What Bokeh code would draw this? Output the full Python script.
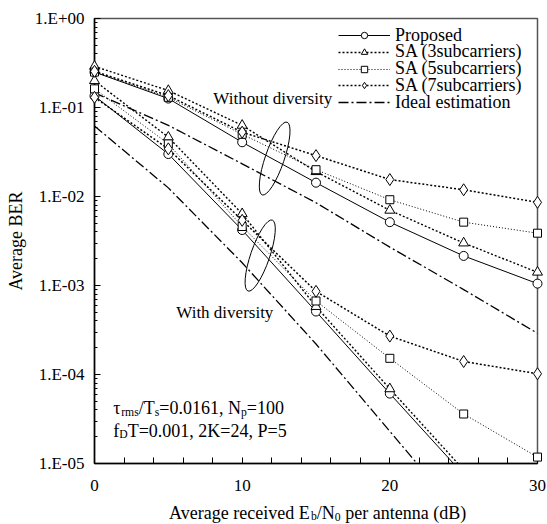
from bokeh.plotting import figure
from bokeh.layouts import column
from bokeh.models import Range1d, FixedTicker, CustomJSTickFormatter, Label, Legend, LegendItem
from bokeh.embed import file_html
from bokeh.resources import INLINE

# ---------------- data ----------------
snr_db = [0, 5, 10, 15, 20, 25, 30]          # Eb/N0 (dB)
snr_div = [0, 5, 10, 15, 20, 25]              # with-diversity curves that leave the frame

series_names = ["Proposed", "SA (3subcarriers)", "SA (5subcarriers)",
                "SA (7subcarriers)", "Ideal estimation"]

# without diversity
prop_nodiv = [0.25, 0.126, 0.0407, 0.0143, 0.00515, 0.00215, 0.00105]
sa3_nodiv = [0.29, 0.155, 0.063, 0.019, 0.0070, 0.0030, 0.00141]
sa5_nodiv = [0.25, 0.13, 0.050, 0.020, 0.0092, 0.00515, 0.00387]
sa7_nodiv = [0.255, 0.136, 0.0528, 0.0288, 0.0155, 0.0119, 0.0086]
ideal_nodiv = [0.146, 0.063, 0.0233, 0.0085, 0.0027, 0.0009, 0.00029]

# with diversity
prop_div = [0.135, 0.030, 0.0042, 0.00051, 6.1e-5, 7.5e-6]
sa3_div = [0.20, 0.0464, 0.0064, 5.8e-4, 6.9e-5, 8.5e-6]
sa5_div = [0.162, 0.039, 0.0046, 6.7e-4, 1.52e-4, 3.6e-5, 1.18e-5]
sa7_div = [0.13, 0.0343, 0.0054, 8.6e-4, 2.7e-4, 1.4e-4, 1.02e-4]
ideal_div = [0.062, 0.0125, 0.0018, 2.2e-4, 2.3e-5, 2.4e-6]

x_major_ticks = [0, 10, 20, 30]
x_minor_ticks = [2, 4, 6, 8, 12, 14, 16, 18, 22, 24, 26, 28]
y_major_ticks = [1e-5, 1e-4, 1e-3, 1e-2, 1e-1, 1.0]

FONT = "Liberation Serif"
Y_MIN, Y_MAX = 1e-5, 1.0
FRAME_H = 445

p = figure(width=547, height=500, x_range=Range1d(0, 30), y_range=Range1d(Y_MIN, Y_MAX),
           y_axis_type="log", output_backend="svg", toolbar_location=None,
           min_border_left=94, min_border_right=10, min_border_top=18, min_border_bottom=37,
           background_fill_color="white", border_fill_color="white")
p.grid.visible = False
p.outline_line_color = "#555555"
p.outline_line_width = 1.5

for ax in (p.xaxis[0], p.yaxis[0]):
    ax.axis_line_color = "black"
    ax.axis_line_width = 1.5
    ax.major_tick_in = 6
    ax.major_tick_out = 0
    ax.minor_tick_in = 6
    ax.minor_tick_out = 0
    ax.major_tick_line_color = "black"
    ax.minor_tick_line_color = "black"
    ax.major_label_text_font = FONT
    ax.major_label_text_font_size = "17px"
    ax.major_label_text_color = "black"

y_minor = [m * 10.0 ** e for e in range(-5, 0) for m in range(2, 10)]
p.xaxis.ticker = FixedTicker(ticks=x_major_ticks, minor_ticks=x_minor_ticks)
p.yaxis.ticker = FixedTicker(ticks=y_major_ticks, minor_ticks=y_minor)
p.yaxis.minor_tick_in = 3
p.yaxis.formatter = CustomJSTickFormatter(code="""
const e = Math.round(Math.log10(tick));
if (e >= 0) { return "1.E+" + String(e).padStart(2, "0"); }
return "1.E-" + String(-e).padStart(2, "0");
""")
p.xaxis.major_label_standoff = 16
p.yaxis.major_label_standoff = 10
p.yaxis.axis_label = "Average BER"
p.yaxis.axis_label_text_font = FONT
p.yaxis.axis_label_text_font_size = "18px"
p.yaxis.axis_label_text_font_style = "normal"
p.yaxis.axis_label_text_color = "black"
p.yaxis.axis_label_standoff = 6

styles = {
    "Proposed": dict(dash="solid", lw=1.0, marker="circle", size=9),
    "SA (3subcarriers)": dict(dash="2 2", lw=1.4, marker="triangle", size=10),
    "SA (5subcarriers)": dict(dash="1 2", lw=1.0, marker="square", size=8),
    "SA (7subcarriers)": dict(dash="2 2", lw=1.5, marker="diamond", size=12),
    "Ideal estimation": dict(dash="10 3 2 3", lw=1.3, marker=None, size=0),
}

curves = {
    "Proposed": [(snr_db, prop_nodiv), (snr_div, prop_div)],
    "SA (3subcarriers)": [(snr_db, sa3_nodiv), (snr_div, sa3_div)],
    "SA (5subcarriers)": [(snr_db, sa5_nodiv), (snr_db, sa5_div)],
    "SA (7subcarriers)": [(snr_db, sa7_nodiv), (snr_db, sa7_div)],
    "Ideal estimation": [(snr_db, ideal_nodiv), (snr_div, ideal_div)],
}

# legend rows: one single-item legend per row so the row pitch can match the reference
LEG_LEFT = 244        # px from frame left to legend glyph start
LEG_FIRST = 17        # px from frame top to first row centre
LEG_PITCH = 16.8      # px between rows
ROW_H = 21

for i, name in enumerate(series_names):
    st = styles[name]
    legend_rs = None
    for k, (xs, ys) in enumerate(curves[name]):
        lr = p.line(xs, ys, line_color="black", line_width=st["lw"], line_dash=st["dash"])
        rs = [lr]
        if st["marker"]:
            mx = [a for a, b in zip(xs, ys) if b >= Y_MIN]
            my = [b for b in ys if b >= Y_MIN]
            mr = p.scatter(mx, my, marker=st["marker"], size=st["size"],
                           fill_color="white", line_color="black", line_width=1.0,
                           level="overlay")
            rs.append(mr)
        if k == 0:
            legend_rs = rs
    # location = bottom-left corner of the legend box, measured from the frame's bottom-left
    bottom_from_frame_top = LEG_FIRST + i * LEG_PITCH + ROW_H / 2.0
    leg = Legend(items=[LegendItem(label=name, renderers=legend_rs)],
                 location=(LEG_LEFT, FRAME_H - bottom_from_frame_top), margin=0, padding=0,
                 label_standoff=5, glyph_width=52, glyph_height=16, label_height=ROW_H,
                 background_fill_alpha=0, border_line_alpha=0,
                 label_text_font=FONT, label_text_font_size="18px", label_text_color="black")
    p.add_layout(leg)

# ellipses marking the two groups of curves
p.ellipse(x=[12.2], y=[0.0267], width=19, height=77, width_units="screen", height_units="screen",
          angle=-0.33, fill_alpha=0, line_color="black", line_width=1)
p.ellipse(x=[11.22], y=[0.00217], width=19, height=75, width_units="screen", height_units="screen",
          angle=-0.33, fill_alpha=0, line_color="black", line_width=1)

p.add_layout(Label(x=8.05, y=0.126, text="Without diversity", text_font=FONT,
                   text_font_size="17px", text_baseline="middle", text_align="left", text_color="black"))
p.add_layout(Label(x=5.54, y=5.0e-4, text="With diversity", text_font=FONT,
                   text_font_size="17px", text_baseline="middle", text_align="left", text_color="black"))

# rich text with subscripts
W = {'τ': 0.44, 'r': 0.333, 'm': 0.778, 's': 0.389, '/': 0.278, 'T': 0.611, '=': 0.564,
     '.': 0.25, ',': 0.25, ' ': 0.25, 'N': 0.722, 'p': 0.5, 'f': 0.333, 'D': 0.722,
     'K': 0.722, 'P': 0.556, 'A': 0.722, 'v': 0.5, 'e': 0.444, 'a': 0.444, 'g': 0.5,
     'c': 0.444, 'i': 0.278, 'd': 0.5, 'E': 0.611, 'b': 0.5, 'n': 0.5, 't': 0.278,
     '(': 0.333, ')': 0.333, 'B': 0.667, 'o': 0.5, 'u': 0.5, 'l': 0.278}


def tw(s, size):
    return sum(W.get(c, 0.5) for c in s) * size


def rich(fig, x, y, pieces, size, align="left", baseline="alphabetic", sub_drop=4):
    sub = size * 0.65
    widths = [tw(t, sub if s else size) for t, s in pieces]
    off = 0.0 if align == "left" else -sum(widths) / 2.0
    for (t, s), w in zip(pieces, widths):
        fs = sub if s else size
        lead = len(t) - len(t.lstrip(" "))
        shown = t.strip(" ")
        fig.add_layout(Label(x=x, y=y, x_offset=off + lead * W[' '] * fs,
                             y_offset=(-sub_drop if s else 0), text=shown,
                             text_font=FONT, text_font_size="%.1fpx" % fs,
                             text_baseline=baseline, text_align="left", text_color="black"))
        off += w


rich(p, 1.27, 4.15e-5, [("τ", False), ("rms", True), ("/T", False), ("s", True),
                        ("=0.0161, N", False), ("p", True), ("=100", False)], 18)
rich(p, 1.27, 2.32e-5, [("f", False), ("D", True), ("T=0.001, 2K=24, P=5", False)], 18)

# x-axis title (with subscripts) in a strip below the chart, same horizontal frame as the chart
t = figure(width=547, height=24, x_range=Range1d(0, 30), y_range=Range1d(0, 24),
           output_backend="svg", toolbar_location=None,
           min_border_left=94, min_border_right=10, min_border_top=0, min_border_bottom=0,
           x_axis_location=None, y_axis_location=None,
           background_fill_color="white", border_fill_color="white", outline_line_color=None)
t.grid.visible = False
rich(t, 15.11, 12, [("Average received E", False), ("b", True), ("/N", False), ("0", True),
                    (" per antenna (dB)", False)], 18, align="center", baseline="middle", sub_drop=4)

layout = column(p, t, spacing=0)
open("out.html", "w").write(file_html(layout, INLINE))
